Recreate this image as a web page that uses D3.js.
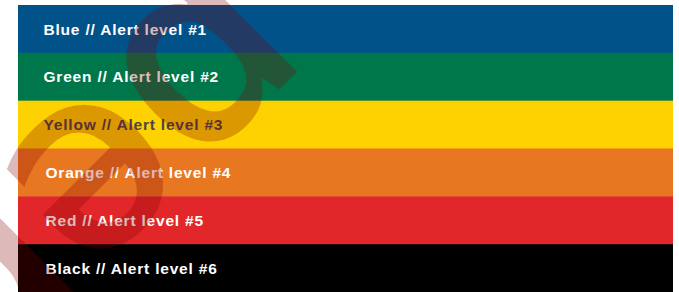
<!DOCTYPE html>
<html>
<head>
<meta charset="utf-8">
<script src="https://cdn.jsdelivr.net/npm/d3@7"></script>
<style>
  html, body { margin: 0; padding: 0; background: #fff; }
  svg { display: block; }
</style>
</head>
<body>
<div id="chart"></div>
<script>
// Alert levels, top to bottom
const levels = ['Blue', 'Green', 'Yellow', 'Orange', 'Red', 'Black'];
const levelNumbers = [1, 2, 3, 4, 5, 6];
const levelColors = ['#02528a', '#00774a', '#fed100', '#e87722', '#e1272a', '#000000'];
const labelColors = ['#ffffff', '#ffffff', '#4a4550', '#ffffff', '#ffffff', '#ffffff'];

// faint watermark lying over the chart (upside-down, diagonal)
const watermarkText = 'per';

const W = 679, H = 292;

const svg = d3.select('#chart')
    .append('svg')
    .attr('width', W)
    .attr('height', H);

const x = d3.scaleLinear().domain([0, 1]).range([18, 673]);
const y = d3.scaleBand().domain(levels).range([5, 292]).padding(0);

// Bands
svg.selectAll('.band')
    .data(levels)
    .enter()
    .append('rect')
    .attr('class', 'band')
    .attr('x', x(0))
    .attr('width', x(1) - x(0))
    .attr('y', d => y(d))
    .attr('height', y.bandwidth() + 0.5)
    .attr('fill', (d, i) => levelColors[i]);

// Labels
svg.selectAll('.label')
    .data(levels)
    .enter()
    .append('text')
    .attr('class', 'label')
    .attr('x', (d, i) => 43.5 + (i >= 3 ? 2 : 0))
    .attr('y', d => y(d) + y.bandwidth() / 2 + 5.6)
    .style('font-family', '"Liberation Sans", Arial, sans-serif')
    .style('font-weight', 'bold')
    .style('font-size', '15.5px')
    .style('letter-spacing', '0.8px')
    .style('fill', (d, i) => labelColors[i])
    .text((d, i) => `${d} // Alert level #${levelNumbers[i]}`);

// Watermark, drawn over everything
svg.append('text')
    .attr('transform', 'translate(211,-45) rotate(135)')
    .style('font-family', '"Open Sans", sans-serif')
    .style('font-weight', 600)
    .style('font-size', '265px')
    .style('letter-spacing', '-2px')
    .style('fill', '#7c0000')
    .style('fill-opacity', 0.27)
    .text(watermarkText);
</script>
</body>
</html>
